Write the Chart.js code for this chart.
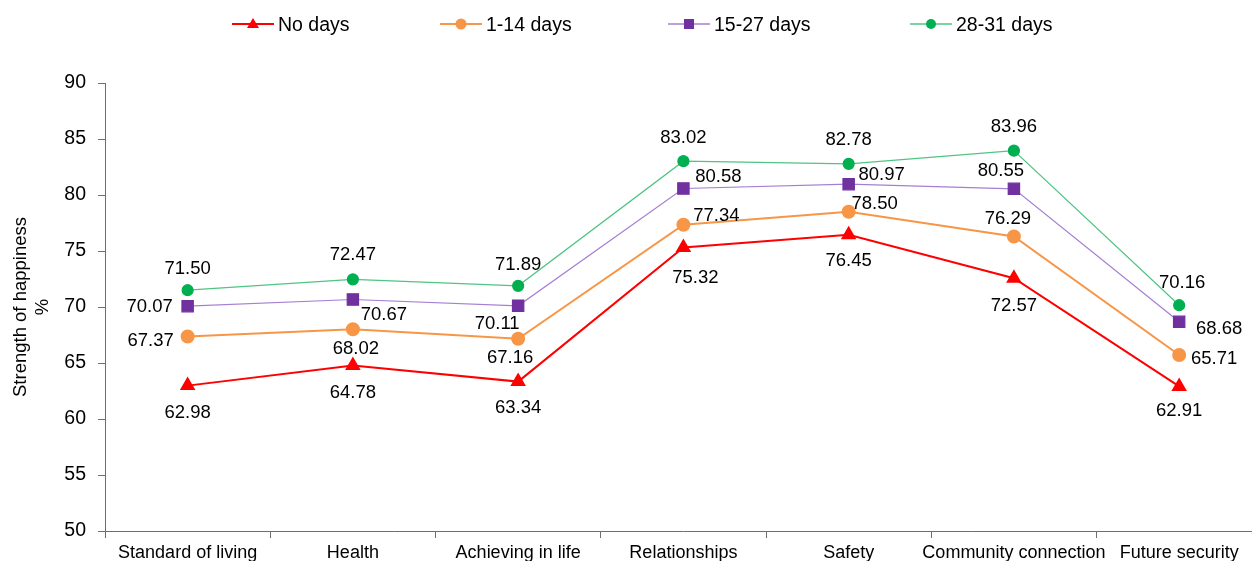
<!DOCTYPE html>
<html><head><meta charset="utf-8">
<script src="https://cdn.jsdelivr.net/npm/chart.js@4.4.1/dist/chart.umd.min.js"></script>
<style>
html,body{margin:0;padding:0;background:#fff;width:1252px;height:561px;overflow:hidden;font-family:"Liberation Sans",Arial,sans-serif;}
#c{position:absolute;left:0;top:0;}
.leg{position:absolute;top:12px;height:24px;display:flex;align-items:center;font-size:19.5px;color:#000;white-space:nowrap;}
.leg svg{margin-right:4px;}
</style></head>
<body>
<canvas id="c" width="1271" height="580" style="width:1271px;height:580px"></canvas>
<div class="leg" style="left:232px"><svg width="42" height="20"><line x1="0" y1="10" x2="42" y2="10" stroke="#FF0000" stroke-width="2"/><polygon points="21,4 27,14 15,14" fill="#FF0000"/></svg>No days</div>
<div class="leg" style="left:440px"><svg width="42" height="20"><line x1="0" y1="10" x2="42" y2="10" stroke="#F79646" stroke-width="2"/><circle cx="21" cy="10" r="5.5" fill="#F79646"/></svg>1-14 days</div>
<div class="leg" style="left:668px"><svg width="42" height="20"><line x1="0" y1="10" x2="42" y2="10" stroke="#A57FD3" stroke-width="1.5"/><rect x="16" y="5" width="10" height="10" fill="#7030A0"/></svg>15-27 days</div>
<div class="leg" style="left:910px"><svg width="42" height="20"><line x1="0" y1="10" x2="42" y2="10" stroke="#4FC483" stroke-width="1.5"/><circle cx="21" cy="10" r="5" fill="#00B050"/></svg>28-31 days</div>
<script>
const categories = ["Standard of living","Health","Achieving in life","Relationships","Safety","Community connection","Future security"];
const noDays   = [62.98, 64.78, 63.34, 75.32, 76.45, 72.57, 62.91];
const days1_14 = [67.37, 68.02, 67.16, 77.34, 78.50, 76.29, 65.71];
const days15_27= [70.07, 70.67, 70.11, 80.58, 80.97, 80.55, 68.68];
const days28_31= [71.50, 72.47, 71.89, 83.02, 82.78, 83.96, 70.16];
const yTicks = [50,55,60,65,70,75,80,85,90];

// label offsets (dx, dy in px relative to the point)
const offNo    = [[0,27],[0,27],[0,26],[12,30],[0,26],[0,28],[0,24]];
const off1_14  = [[-37,4],[3,20],[-8,19],[33,-9],[26,-8],[-6,-18],[35,4]];
const off15_27 = [[-38,1],[31,15],[-21,18],[35,-12],[33,-9],[-13,-18],[40,7]];
const off28_31 = [[0,-21],[0,-24],[0,-21],[0,-23],[0,-24],[0,-24],[3,-22]];
const offsets = [offNo, off1_14, off15_27, off28_31];

const FONT = '"Liberation Sans", Arial, sans-serif';

const labelPlugin = {
  id:'pointLabels',
  afterDatasetsDraw(chart){
    const ctx = chart.ctx;
    ctx.save();
    ctx.font = '18.5px ' + FONT;
    ctx.fillStyle = '#000';
    ctx.textAlign = 'center';
    ctx.textBaseline = 'middle';
    chart.data.datasets.forEach((ds, i) => {
      const meta = chart.getDatasetMeta(i);
      meta.data.forEach((pt, j) => {
        const o = offsets[i][j];
        ctx.fillText(ds.data[j].toFixed(2), pt.x + o[0], pt.y + o[1]);
      });
    });
    ctx.restore();
  }
};

new Chart(document.getElementById('c'), {
  type:'line',
  data:{
    labels: categories,
    datasets:[
      {label:'No days', data:noDays, borderColor:'#FF0000', backgroundColor:'#FF0000', borderWidth:2, pointStyle:'triangle', pointRadius:7, pointHoverRadius:7, tension:0},
      {label:'1-14 days', data:days1_14, borderColor:'#F79646', backgroundColor:'#F79646', borderWidth:2, pointStyle:'circle', pointRadius:6, pointHoverRadius:6, tension:0},
      {label:'15-27 days', data:days15_27, borderColor:'#A57FD3', backgroundColor:'#7030A0', pointBorderColor:'#7030A0', borderWidth:1.2, pointStyle:'rect', pointRadius:8, pointHoverRadius:8, tension:0},
      {label:'28-31 days', data:days28_31, borderColor:'#4FC483', backgroundColor:'#00B050', pointBorderColor:'#00B050', borderWidth:1.2, pointStyle:'circle', pointRadius:5.5, pointHoverRadius:5.5, tension:0}
    ]
  },
  options:{
    responsive:false, animation:false,
    layout:{padding:{top:83,left:0,right:0,bottom:0}},
    plugins:{legend:{display:false}, tooltip:{enabled:false}},
    scales:{
      x:{
        offset:true,
        grid:{display:true, drawOnChartArea:false, drawTicks:true, tickLength:7, color:'#6e6e6e', offset:true},
        border:{display:true, color:'#6e6e6e', width:1},
        ticks:{font:{size:18, family:FONT}, color:'#000', padding:4, maxRotation:0, autoSkip:false},
        afterFit(s){ s.height = 49; }
      },
      y:{
        min:50, max:90,
        afterBuildTicks(s){ s.ticks = yTicks.map(v=>({value:v})); },
        grid:{display:true, drawOnChartArea:false, drawTicks:true, tickLength:7, color:'#6e6e6e'},
        border:{display:true, color:'#6e6e6e', width:1},
        ticks:{font:{size:19.5, family:FONT}, color:'#000', padding:12},
        title:{display:true, text:['Strength of happiness','%'], font:{size:18.5, family:FONT}, color:'#000', padding:{top:10,bottom:0}},
        afterFit(s){ s.width = 105; }
      }
    }
  },
  plugins:[labelPlugin]
});
</script>
</body></html>
